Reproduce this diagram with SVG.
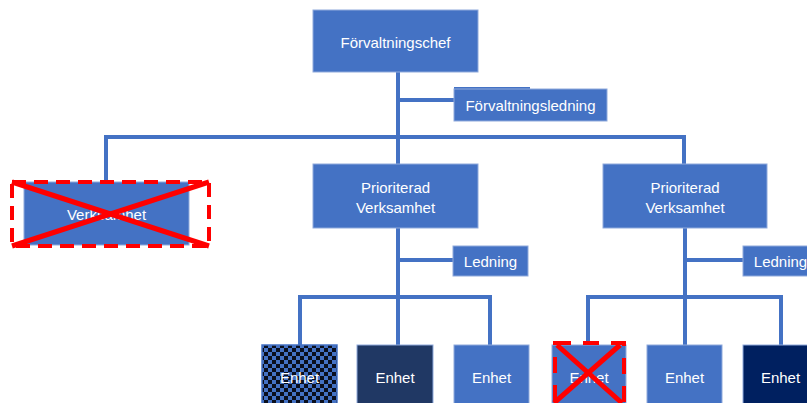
<svg xmlns="http://www.w3.org/2000/svg" width="807" height="403" viewBox="0 0 807 403">
<style>
.box{fill:#4472C4;stroke:#8FAADC;stroke-width:1}
.t{font-family:"Liberation Sans",Arial,sans-serif;font-size:15px;fill:#FFFFFF;text-anchor:middle;dominant-baseline:central}
.c{fill:none;stroke:#4472C4;stroke-width:4}
.rd{fill:none;stroke:#FF0000;stroke-width:4;stroke-dasharray:14 8}
.rx{stroke:#FF0000;stroke-width:5}
</style>
<defs>
<pattern id="chk" width="8" height="8" patternUnits="userSpaceOnUse">
<rect width="8" height="8" fill="#4472C4"/>
<rect x="0" y="0" width="4" height="4" fill="#0A0F1E"/>
<rect x="4" y="4" width="4" height="4" fill="#0A0F1E"/>
</pattern>
</defs>
<g id="connectors">
<path class="c" d="M398 72V165"/>
<path class="c" d="M398 100H455"/>
<path class="c" d="M106 183V137H684V165"/>
<path class="c" d="M398 228V345"/>
<path class="c" d="M398 260H454"/>
<path class="c" d="M300 345V297H490V345"/>
<path class="c" d="M685 228V345"/>
<path class="c" d="M685 260H744"/>
<path class="c" d="M588 345V297H781V345"/>
</g>
<g id="forvaltningschef">
<rect class="box" x="313" y="10" width="165" height="62"/>
<text class="t" x="395.5" y="42">Förvaltningschef</text>
</g>
<g id="forvaltningsledning">
<rect x="454" y="87" width="76" height="12" fill="#4472C4"/>
<rect class="box" x="454" y="89" width="153" height="32"/>
<text class="t" x="530.5" y="105">Förvaltningsledning</text>
</g>
<g id="verksamhet">
<rect class="box" x="24" y="182" width="165" height="63"/>
<text class="t" x="106.5" y="214">Verksamhet</text>
<rect class="rd" x="12" y="182" width="197" height="64"/>
<line class="rx" x1="12" y1="182" x2="209" y2="246"/>
<line class="rx" x1="12" y1="246" x2="209" y2="182"/>
</g>
<g id="prioriterad1">
<rect class="box" x="313" y="164" width="165" height="64"/>
<text class="t" x="395.5" y="187">Prioriterad</text>
<text class="t" x="395.5" y="207">Verksamhet</text>
</g>
<g id="prioriterad2">
<rect class="box" x="603" y="164" width="164" height="64"/>
<text class="t" x="685" y="187">Prioriterad</text>
<text class="t" x="685" y="207">Verksamhet</text>
</g>
<g id="ledning1">
<rect class="box" x="453" y="246" width="75" height="30"/>
<text class="t" x="490.5" y="261">Ledning</text>
</g>
<g id="ledning2">
<rect class="box" x="743" y="246" width="75" height="30"/>
<text class="t" x="780.5" y="261">Ledning</text>
</g>
<g id="enhet1">
<rect x="262" y="345" width="75" height="70" fill="url(#chk)" stroke="#4472C4" stroke-width="1.5"/>
<text class="t" x="299.5" y="377">Enhet</text>
</g>
<g id="enhet2">
<rect x="357" y="345" width="76" height="70" fill="#203864" stroke="#8FAADC" stroke-width="1"/>
<text class="t" x="395" y="377">Enhet</text>
</g>
<g id="enhet3">
<rect class="box" x="454" y="345" width="75" height="70"/>
<text class="t" x="491.5" y="377">Enhet</text>
</g>
<g id="enhet4">
<rect class="box" x="552" y="345" width="74" height="70"/>
<text class="t" x="589" y="377">Enhet</text>
<rect class="rd" x="555" y="343" width="69" height="72" style="stroke-dasharray:16 12"/>
<line class="rx" x1="557" y1="345" x2="622" y2="403"/>
<line class="rx" x1="620" y1="345" x2="554" y2="403"/>
</g>
<g id="enhet5">
<rect class="box" x="647" y="345" width="75" height="70"/>
<text class="t" x="684.5" y="377">Enhet</text>
</g>
<g id="enhet6">
<rect x="743" y="345" width="75" height="70" fill="#002060" stroke="#8FAADC" stroke-width="1"/>
<text class="t" x="780.5" y="377">Enhet</text>
</g>
</svg>
